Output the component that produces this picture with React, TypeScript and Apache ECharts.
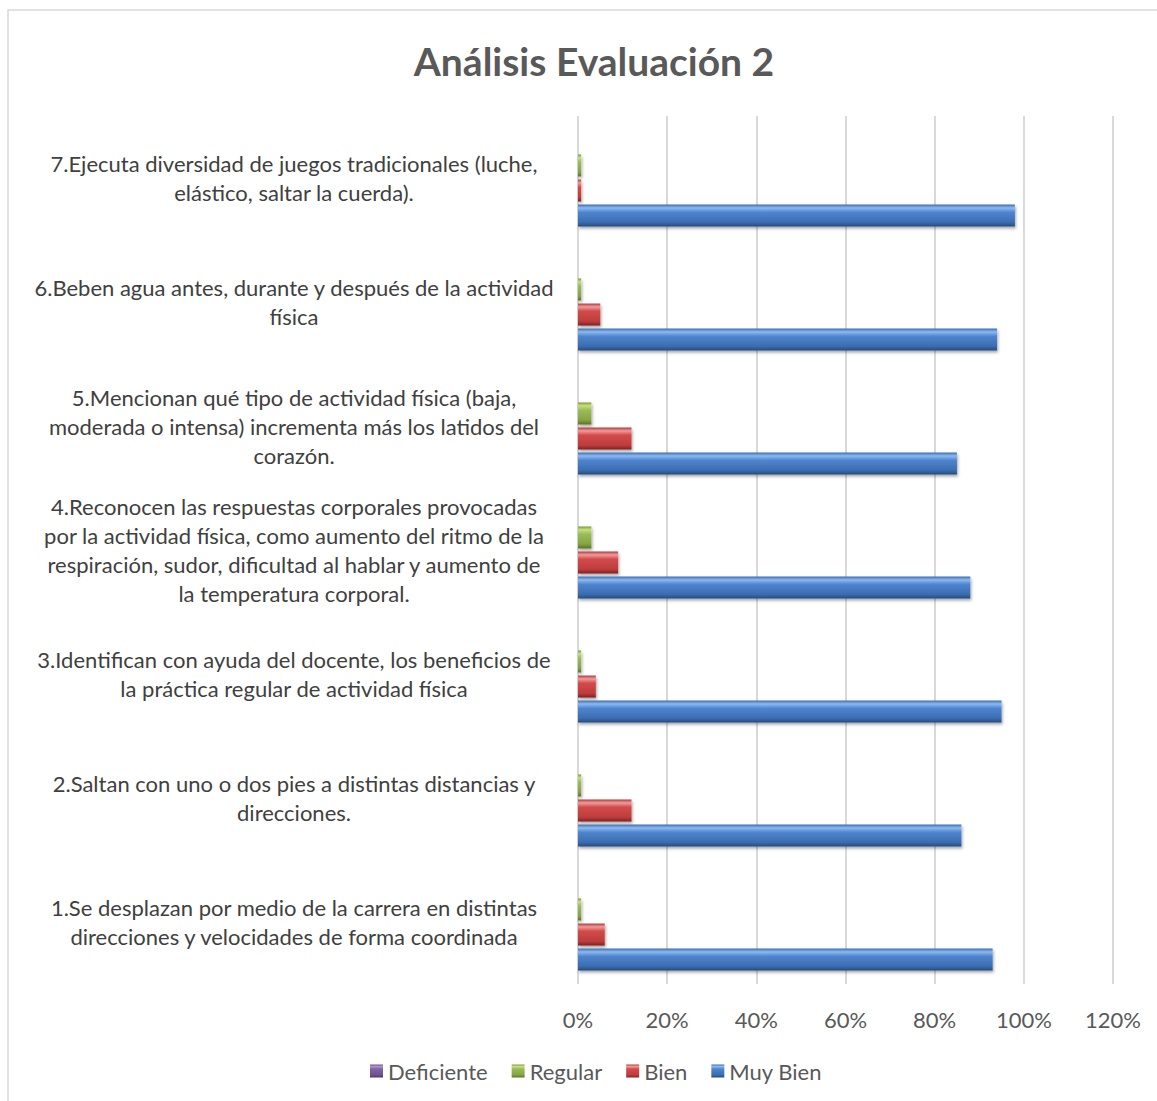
import React, { useEffect, useRef } from "react";
import * as echarts from "echarts";

const categories = [
  "1.Se desplazan por medio de la carrera en distintas\ndirecciones y velocidades de forma coordinada",
  "2.Saltan con uno o dos pies a distintas distancias y\ndirecciones.",
  "3.Identifican con ayuda del docente, los beneficios de\nla práctica regular de actividad física",
  "4.Reconocen las respuestas corporales provocadas\npor la actividad física, como aumento del ritmo de la\nrespiración, sudor, dificultad al hablar y aumento de\nla temperatura corporal.",
  "5.Mencionan qué tipo de actividad física (baja,\nmoderada o intensa) incrementa más los latidos del\ncorazón.",
  "6.Beben agua antes, durante y después de la actividad\nfísica",
  "7.Ejecuta diversidad de juegos tradicionales (luche,\nelástico, saltar la cuerda).",
];

const muyBien = [93, 86, 95, 88, 85, 94, 98];
const bien = [6, 12, 4, 9, 12, 5, 0.7];
const regular = [0.7, 0.7, 0.7, 3, 3, 0.7, 0.7];
const deficiente = [0, 0, 0, 0, 0, 0, 0];

const xTicks = { min: 0, max: 120, interval: 20 };
const legendOrder = ["Deficiente", "Regular", "Bien", "Muy Bien"];

const FONT = "Lato, 'Open Sans', sans-serif";

function grad(top: string, hi: string, mid: string, low: string, bottom: string) {
  return new echarts.graphic.LinearGradient(0, 0, 0, 1, [
    { offset: 0, color: top },
    { offset: 0.15, color: hi },
    { offset: 0.35, color: mid },
    { offset: 0.8, color: low },
    { offset: 1, color: bottom },
  ]);
}

export default function App() {
  const ref = useRef<HTMLDivElement>(null);
  useEffect(() => {
    if (!ref.current) return;
    const chart = echarts.init(ref.current, undefined, { renderer: "svg" });
    const shadow = {
      shadowColor: "rgba(0,0,0,0.35)",
      shadowBlur: 3,
      shadowOffsetX: 1,
      shadowOffsetY: 2,
    };
    const mk = (name: string, data: number[], color: any) => ({
      name,
      type: "bar",
      data,
      barWidth: 22,
      barGap: "14%",
      itemStyle: { color, ...shadow },
    });
    chart.setOption({
      animation: false,
      backgroundColor: "#ffffff",
      title: {
        text: "Análisis Evaluación 2",
        left: 589,
        top: 36,
        textAlign: "center",
        textStyle: {
          fontFamily: FONT,
          fontSize: 39,
          fontWeight: "bold",
          color: "#595959",
        },
      },
      graphic: [
        {
          type: "rect",
          shape: { x: 8, y: 10, width: 1300, height: 1300 },
          style: { fill: "none", stroke: "#d9d9d9", lineWidth: 1.5 },
          silent: true,
        },
      ],
      legend: {
        data: legendOrder,
        bottom: 14,
        left: 365,
        itemWidth: 13,
        itemHeight: 13,
        itemGap: 24,
        icon: "rect",
        textStyle: { fontFamily: FONT, fontSize: 22, color: "#595959" },
      },
      grid: { left: 578, right: 44, top: 116, bottom: 1101 - 984 },
      xAxis: {
        type: "value",
        min: xTicks.min,
        max: xTicks.max,
        interval: xTicks.interval,
        axisLine: { show: false },
        axisTick: { show: false },
        splitLine: { show: true, lineStyle: { color: "#d9d9d9", width: 2 } },
        axisLabel: {
          formatter: "{value}%",
          fontFamily: FONT,
          fontSize: 22,
          color: "#595959",
          margin: 24,
        },
      },
      yAxis: {
        type: "category",
        data: categories,
        axisLine: { show: false },
        axisTick: { show: false },
        axisLabel: {
          fontFamily: FONT,
          fontSize: 22,
          lineHeight: 29,
          color: "#404040",
          align: "center",
          margin: 284,
        },
      },
      series: [
        mk("Deficiente", deficiente, grad("#6a4e8c", "#ad96cc", "#8064a2", "#6f5390", "#4a3466")),
        mk("Regular", regular, grad("#7f9c3c", "#c6e07c", "#9bbb59", "#86a444", "#5a7226")),
        mk("Bien", bien, grad("#b03a3a", "#f29a9a", "#d24a4a", "#bf3d3d", "#802222")),
        mk("Muy Bien", muyBien, grad("#3d6fb0", "#8cbaf2", "#4f85cf", "#3b6db0", "#254a80")),
      ],
    });
    return () => chart.dispose();
  }, []);
  return (
    <div
      ref={ref}
      style={{ position: "fixed", left: 0, top: 0, width: 1157, height: 1101 }}
    />
  );
}
